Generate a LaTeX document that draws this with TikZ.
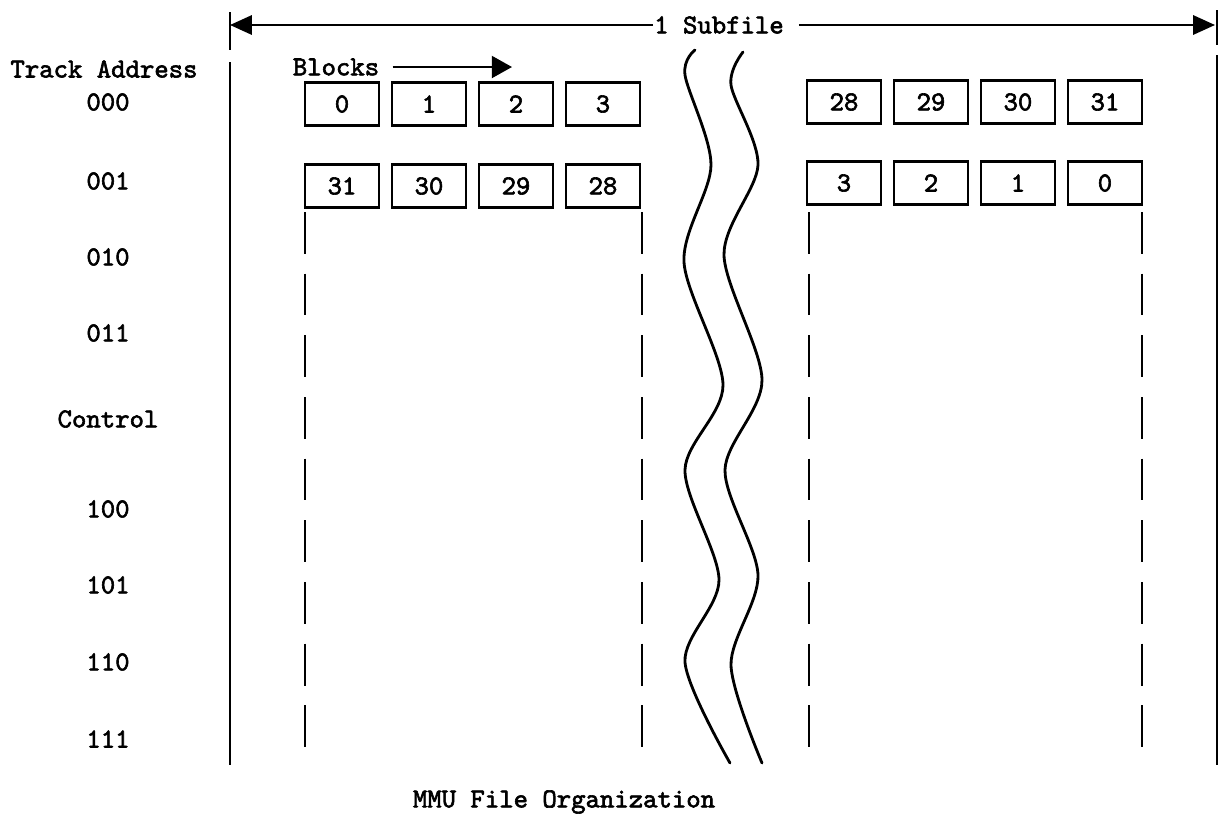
\documentclass[tikz,border=0pt]{standalone}
\usepackage{fontspec}
\setmonofont{lmmono10-regular.otf}[AutoFakeBold=2.2]
\usetikzlibrary{positioning, arrows.meta}

\begin{document}
\begin{tikzpicture}[
        x=0.02cm, y=-0.02cm,
        node distance=1.74cm,
        font=\ttfamily\bfseries\fontsize{15.6}{18}\selectfont,
        line width=1.3pt,
        every node/.style={inner sep=0pt},
        blk/.style={
          draw,
          minimum width=1.48cm,
          minimum height=0.86cm
        },
        track/.style={anchor=center},
        dashline/.style={dash pattern=on 23.8pt off 11.3pt},
        wave/.style={line width=1.6pt, line cap=round}
      ]
      \useasboundingbox (0,0) rectangle (1221,829);

      % Rahmen
      \draw (230,12) -- (230,50);
      \draw (230,62) -- (230,765);
      \draw (1217,10) -- (1217,45);
      \draw (1217,55) -- (1217,765);

      % Subfile
      \coordinate (la) at (230,25);
      \coordinate (ra) at (1215,25);
      \node (sub) at (719,25) {1 Subfile};
      \draw[-{Triangle[length=12.5pt, width=11pt]}] (sub.west) -- (la);
      \draw[-{Triangle[length=12.5pt, width=11pt]}, shorten <=8pt] (sub.east) -- (ra);

      % Spuren
      \node (trk) at (104,69) {Track Address};
      \node[track] (t000) at (108,102) {000};
      \node[track] (t001) at (108,181) {001};
      \node[track] (t010) at (108,257) {010};
      \node[track] (t011) at (108,333) {011};
      \node[track] (tctl) at (108,419) {Control};
      \node[track] (t100) at (108,509) {100};
      \node[track] (t101) at (108,585) {101};
      \node[track] (t110) at (108,662) {110};
      \node[track] (t111) at (108,739) {111};

      % Blocks
      \node (blocks) at (336,67) {Blocks};
      \coordinate (bend) at (512,67);
      \draw[-{Triangle[length=11.5pt, width=12.5pt]}, shorten <=7pt] (blocks.east) -- (bend);

      % Spur 000
      \node[blk] (a0) at (342,104) {0};
      \node[blk, right of=a0] (a1) {1};
      \node[blk, right of=a1] (a2) {2};
      \node[blk, right of=a2] (a3) {3};
      \node[blk] (a28) at (844,102) {28};
      \node[blk, right of=a28] (a29) {29};
      \node[blk, right of=a29] (a30) {30};
      \node[blk, right of=a30] (a31) {31};

      % Spur 001
      \node[blk] (b31) at (342,186) {31};
      \node[blk, right of=b31] (b30) {30};
      \node[blk, right of=b30] (b29) {29};
      \node[blk, right of=b29] (b28) {28};
      \node[blk] (b3) at (844,183) {3};
      \node[blk, right of=b3] (b2) {2};
      \node[blk, right of=b2] (b1) {1};
      \node[blk, right of=b1] (b0) {0};

      % gestrichelt
      \draw[dashline] (305,212) -- (305,765);
      \draw[dashline] (642,212) -- (642,765);
      \draw[dashline] (809,212) -- (809,765);
      \draw[dashline] (1142,212) -- (1142,765);

      % Bruchlinien
      \draw[wave] plot[smooth] coordinates {(695,50) (685,75) (711,165) (684,262)
        (723,385) (685,470) (719,580) (685,662) (730,763)};
      \draw[wave] plot[smooth] coordinates {(743,52) (731,85) (758,165) (724,255)
        (762,380) (725,470) (758,575) (731,665) (762,763)};

      % Titel
      \node (title) at (564,802) {MMU File Organization};

    \end{tikzpicture}
\end{document}
